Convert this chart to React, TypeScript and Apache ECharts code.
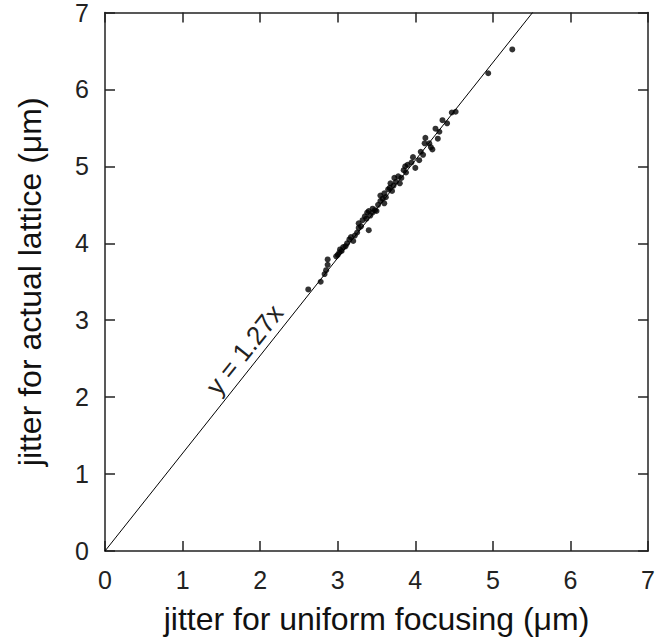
import React, { useEffect, useRef } from "react";
import * as echarts from "echarts";

// Jitter for uniform focusing (x) vs. jitter for actual lattice (y), in µm
const uniformJitter = [
  2.62, 2.78, 2.83, 2.85, 2.87, 2.87, 2.98, 3.0, 3.02, 3.03, 3.05, 3.07, 3.1, 3.12,
  3.15, 3.17, 3.2, 3.22, 3.25, 3.27, 3.27, 3.3, 3.32, 3.35, 3.37, 3.38, 3.4, 3.4,
  3.42, 3.45, 3.45, 3.48, 3.5, 3.52, 3.55, 3.55, 3.58, 3.6, 3.6, 3.62, 3.65, 3.67,
  3.68, 3.7, 3.72, 3.73, 3.75, 3.78, 3.8, 3.82, 3.85, 3.87, 3.88, 3.9, 3.95, 3.97,
  4.0, 4.05, 4.07, 4.1, 4.12, 4.13, 4.18, 4.2, 4.22, 4.26, 4.29, 4.31, 4.35, 4.41,
  4.47, 4.52, 4.94, 5.25,
];
const latticeJitter = [
  3.4, 3.5, 3.6, 3.65, 3.72, 3.79, 3.83, 3.85, 3.88, 3.92, 3.9, 3.95, 3.96, 4.0,
  4.05, 4.08, 4.03, 4.1, 4.14, 4.2, 4.26, 4.22, 4.3, 4.35, 4.32, 4.4, 4.42, 4.17,
  4.36, 4.4, 4.45, 4.43, 4.42, 4.5, 4.55, 4.62, 4.58, 4.52, 4.65, 4.6, 4.7, 4.72,
  4.78, 4.68, 4.75, 4.85, 4.8, 4.87, 4.78, 4.85, 4.95, 5.0, 4.92, 5.02, 5.05, 5.12,
  4.98, 5.08, 5.19, 5.15, 5.3, 5.37, 5.3, 5.25, 5.22, 5.49, 5.36, 5.45, 5.6, 5.56,
  5.7, 5.71, 6.21, 6.52,
];

const fitSlope = 1.27;
const axisTicks = [0, 1, 2, 3, 4, 5, 6, 7];
const xTitle = "jitter for uniform focusing (\u03bcm)";
const yTitle = "jitter for actual lattice (\u03bcm)";
const fitLabel = "y = 1.27x";

const FONT = "Liberation Sans, Arial, Helvetica, sans-serif";

export default function App() {
  const ref = useRef<HTMLDivElement>(null);

  useEffect(() => {
    if (!ref.current) return;
    const chart = echarts.init(ref.current, undefined, { renderer: "svg" });

    const axMin = axisTicks[0];
    const axMax = axisTicks[axisTicks.length - 1];
    const lineStyle = { color: "#222", width: 1.5 };

    const baseAxis = {
      type: "value" as const,
      min: axMin,
      max: axMax,
      interval: 1,
      splitLine: { show: false },
      axisLine: { show: true, onZero: false, lineStyle },
      axisTick: { show: true, inside: true, length: 10, lineStyle },
    };
    const labelled = {
      axisLabel: { show: true, color: "#222", fontSize: 25, fontFamily: FONT, margin: 16 },
      nameLocation: "middle" as const,
      nameTextStyle: { color: "#111", fontSize: 32, fontFamily: FONT },
    };
    const mirror = { axisLabel: { show: false } };

    const points = uniformJitter.map((x, i) => [x, latticeJitter[i]]);
    const fitLine = [
      [0, 0],
      [axMax / fitSlope, axMax],
    ];

    const grid = { left: 105, right: 6, top: 12, bottom: 90 };
    chart.setOption({
      animation: false,
      backgroundColor: "#fff",
      grid: { ...grid, containLabel: false },
      xAxis: [
        { ...baseAxis, ...labelled, position: "bottom", name: xTitle, nameGap: 52 },
        { ...baseAxis, ...mirror, position: "top" },
      ],
      yAxis: [
        { ...baseAxis, ...labelled, position: "left", name: yTitle, nameGap: 59 },
        { ...baseAxis, ...mirror, position: "right" },
      ],
      series: [
        {
          type: "line",
          data: fitLine,
          showSymbol: false,
          symbol: "none",
          lineStyle: { color: "#000", width: 1 },
          silent: true,
        },
        {
          type: "scatter",
          data: points,
          symbol: "circle",
          symbolSize: 6,
          itemStyle: { color: "#000" },
        },
      ],
    });

    // Rotated label running along the fit line
    const anchor = chart.convertToPixel({ gridIndex: 0 }, [1.96, fitSlope * 1.96]) as number[];
    const origin = chart.convertToPixel({ gridIndex: 0 }, [0, 0]) as number[];
    const top = chart.convertToPixel({ gridIndex: 0 }, [axMax / fitSlope, axMax]) as number[];
    const angle = Math.atan2(origin[1] - top[1], top[0] - origin[0]);
    const off = 16;
    chart.setOption({
      graphic: [
        {
          type: "text",
          x: anchor[0] - off * Math.sin(angle),
          y: anchor[1] - off * Math.cos(angle),
          rotation: angle,
          style: {
            text: fitLabel,
            fontSize: 26,
            fontFamily: FONT,
            fill: "#222",
            align: "center",
            verticalAlign: "middle",
          },
        },
      ],
    });

    return () => chart.dispose();
  }, []);

  return (
    <div
      ref={ref}
      style={{ position: "fixed", left: 0, top: 0, width: 658, height: 641, background: "#fff" }}
    />
  );
}
